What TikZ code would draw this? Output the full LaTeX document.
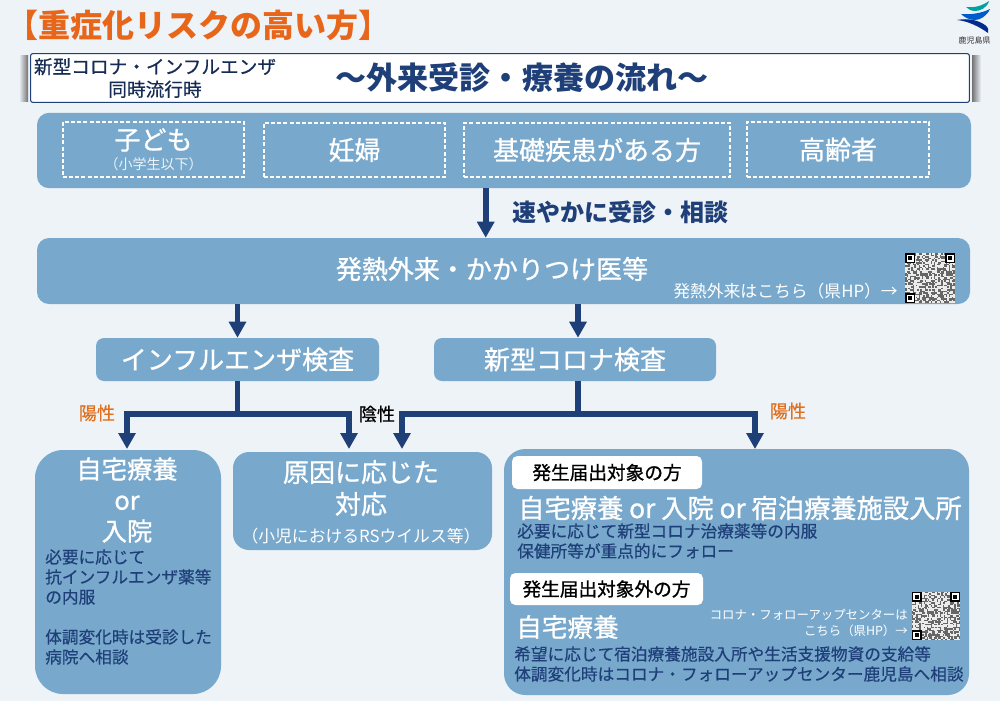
\documentclass[tikz,border=0pt]{standalone}
\usepackage{fontspec}
\usepackage{tikz}
\usetikzlibrary{arrows.meta,positioning}
\setmainfont{Noto Sans CJK JP}
\newfontfamily\medfont[FakeBold=0.9]{Noto Sans CJK JP}
\newfontfamily\notefont[FakeBold=0.5]{Noto Sans CJK JP}
\definecolor{pagebg}{HTML}{EEF3F8}
\definecolor{boxblue}{HTML}{78A9CD}
\definecolor{navy}{HTML}{1F3F78}
\definecolor{titleorange}{HTML}{E8661A}
\definecolor{labelorange}{HTML}{E0701E}
\tikzset{
	panel/.style={fill=boxblue,draw=none,rounded corners=#1,inner sep=0pt},
	panel/.default=12,
	dashbox/.style={draw=white,dashed,line width=0.8pt,dash pattern=on 3pt off 1.6pt,text=white,inner sep=0pt},
	tagbox/.style={fill=white,rounded corners=4pt,inner sep=0pt,font=\medfont\fontsize{14}{16}\selectfont},
	flow/.style={draw=navy,line width=4.2pt},
	flowtip/.style={flow,-{Triangle[width=12.5pt,length=12pt]}},
	whitetext/.style={text=white,inner sep=0pt,align=center},
	navytext/.style={text=navy,inner sep=0pt,align=left,font=\notefont\fontsize{12.5}{15}\selectfont},
}
% QR code drawn as a field of cells
\newcommand{\qrblock}[3]{%
	\begin{scope}[shift={(#1,#2)}]
		\fill[white!85!gray] (0,0) rectangle (#3,#3);
		\pgfmathsetseed{4711}
		\foreach \i in {0,...,32}{
			\foreach \j in {0,...,32}{
				\pgfmathparse{rnd}
				\ifdim\pgfmathresult pt<0.5pt
					\fill[black!60] ({\i*#3/33},{\j*#3/33}) rectangle ++({#3/33},{#3/33});
				\fi
			}
		}
		\foreach \a/\b in {0/0,0.8/0,0/0.8}{
			\fill[black] ({\a*#3},{\b*#3}) rectangle ++({0.2*#3},{0.2*#3});
			\fill[white] ({(\a+0.03)*#3},{(\b+0.03)*#3}) rectangle ++({0.14*#3},{0.14*#3});
			\fill[black] ({(\a+0.06)*#3},{(\b+0.06)*#3}) rectangle ++({0.08*#3},{0.08*#3});
		}
	\end{scope}
}

\begin{document}
\begin{tikzpicture}[x=0.75pt,y=-0.75pt]
	\fill[pagebg] (0,0) rectangle (1000,701);
	\useasboundingbox (0,0) rectangle (1000,701);
	% 見出し
	\node[text=titleorange,inner sep=0pt,font=\fontsize{24}{28}\selectfont\bfseries] (heading) at (199,25) {【重症化リスクの高い方】};
	% ロゴ
	\fill[teal!60!cyan!90!black] (966,7) .. controls (974,8) and (982,6) .. (989,1) .. controls (987,8) and (980,11) .. (975,11) .. controls (971,11) and (968,9) .. (966,7);
	\fill[blue!55!cyan!80!black] (961,14) .. controls (971,15) and (982,13) .. (990,9) .. controls (987,16) and (980,20) .. (975,20) .. controls (969,20) and (964,17) .. (961,14);
	\fill[blue!70!cyan!55!black] (957,20) .. controls (968,18) and (978,20) .. (985,25) .. controls (988,27) and (989,30) .. (988,33) .. controls (980,27) and (968,21) .. (957,20);
	\node[text=black!80,inner sep=0pt,font=\fontsize{6}{7}\selectfont] (logotext) at (974.5,40) {鹿児島県};
	% バナー
	\shade[left color=pagebg,right color=black!55] (19,55) rectangle (28,101);
	\shade[left color=black!55,right color=pagebg] (972,55) rectangle (981,101);
	\node[fill=white,draw=navy,line width=0.8pt,rounded corners=1.5pt,minimum width=704pt,minimum height=36.5pt,inner sep=0pt] (banner) at (500,78) {};
	\node[text=navy!70!black,inner sep=0pt,align=center,font=\notefont\fontsize{14}{17}\selectfont] (simul) at (155,78) {新型コロナ・インフルエンザ\\同時流行時};
	\node[text=navy,inner sep=0pt,font=\fontsize{23.3}{26}\selectfont\bfseries] (flowtitle) at (522,78) {～外来受診・療養の流れ～};
	% 対象者
	\node[panel=9pt,minimum width=700.5pt,minimum height=56.5pt] (target) at (504,150.5) {};
	\node[dashbox,minimum width=135.75pt,minimum height=41.25pt] (childbox) at (153.5,149.5) {};
	\node[whitetext,font=\medfont\fontsize{19.5}{22}\selectfont] (child) at (153.5,140) {子ども};
	\node[whitetext,font=\fontsize{10.5}{12}\selectfont,text=white!85!boxblue] (childsub) at (153.5,164) {（小学生以下）};
	\node[dashbox,minimum width=135.75pt,minimum height=40.5pt,font=\medfont\fontsize{19.5}{22}\selectfont] (preg) at (354.5,150) {妊婦};
	\node[dashbox,minimum width=199.5pt,minimum height=40.5pt,font=\medfont\fontsize{19.5}{22}\selectfont] (chronic) at (597,150) {基礎疾患がある方};
	\node[dashbox,minimum width=136.5pt,minimum height=41.25pt,font=\medfont\fontsize{19.5}{22}\selectfont] (elder) at (838,149.5) {高齢者};
	% 受診先
	\node[panel=9pt,minimum width=699.75pt,minimum height=49.5pt] (fever) at (503.5,271) {};
	\node[whitetext,font=\medfont\fontsize{19.5}{23}\selectfont] (fevertext) at (492,269) {発熱外来・かかりつけ医等};
	\node[whitetext,font=\fontsize{12.6}{14}\selectfont] (feverlink) at (785.5,291) {発熱外来はこちら（県HP）→};
	\qrblock{905}{253}{50}
	\node[navytext,font=\fontsize{18}{21}\selectfont\bfseries] (hurry) at (620,212) {速やかに受診・相談};
	\draw[flowtip] (target.south -| hurry.west) ++(-26,0) coordinate (hurrytop) -- (hurrytop |- fever.north);
	% 検査
	\node[panel=6pt,minimum width=212.25pt,minimum height=32.25pt,whitetext,font=\medfont\fontsize{19.5}{23}\selectfont] (flu) at (237.5,359.5) {インフルエンザ検査};
	\node[panel=6pt,minimum width=211.5pt,minimum height=32.25pt,whitetext,font=\medfont\fontsize{19.5}{23}\selectfont] (corona) at (575,359.5) {新型コロナ検査};
	% 結果
	\node[panel=21pt,minimum width=139.5pt,minimum height=183pt] (home) at (128,572) {};
	\node[whitetext,font=\medfont\fontsize{19}{23.25}\selectfont] (hometext) at (127,500) {自宅療養\\or\\入院};
	\node[navytext,anchor=north west] (homenote) at (45,549) {必要に応じて\\抗インフルエンザ薬等\\の内服\\[15pt]体調変化時は受診した\\病院へ相談};
	\node[panel=12pt,minimum width=194.25pt,minimum height=73.5pt] (cause) at (362.5,501) {};
	\node[whitetext,font=\medfont\fontsize{19.5}{24}\selectfont] (causetext) at (361,488) {原因に応じた\\対応};
	\node[whitetext,font=\fontsize{12.6}{14}\selectfont] (causenote) at (361,536) {（小児におけるRSウイルス等）};
	\node[panel=16pt,minimum width=348.75pt,minimum height=184.5pt] (notify) at (736.5,572) {};
	\node[tagbox,minimum width=142.5pt,minimum height=24.75pt] (tagin) at (607,472.5) {発生届出対象の方};
	\node[whitetext,font=\medfont\fontsize{19.7}{23}\selectfont,anchor=west] (inchoice) at (518,508) {自宅療養 or 入院 or 宿泊療養施設入所};
	\node[navytext,anchor=north west] (innote) at (517,523) {必要に応じて新型コロナ治療薬等の内服\\保健所等が重点的にフォロー};
	\node[tagbox,minimum width=144.75pt,minimum height=24pt] (tagout) at (606.5,589) {発生届出対象外の方};
	\node[whitetext,font=\medfont\fontsize{19.2}{23}\selectfont,anchor=west] (outchoice) at (516,627) {自宅療養};
	\node[whitetext,font=\fontsize{9.3}{12}\selectfont,align=right,anchor=east] (centerlink) at (908,623) {コロナ・フォローアップセンターは\\こちら（県HP）→};
	\qrblock{912}{592}{48}
	\node[navytext,anchor=north west] (outnote) at (514,646) {希望に応じて宿泊療養施設入所や生活支援物資の支給等\\体調変化時はコロナ・フォローアップセンター鹿児島へ相談};
	% 矢印
	\draw[flowtip] (flu.north |- fever.south) -- (flu.north);
	\coordinate (coronatap) at (578,381);
	\draw[flowtip] (coronatap |- fever.south) -- (coronatap |- corona.north);
	\coordinate (flusplit) at (237.5,414);
	\coordinate (coronasplit) at (578,414);
	\draw[flow] (flu.south) -- (flusplit);
	\draw[flow] (coronatap) -- (coronasplit);
	\draw[flowtip] (flusplit) -| (127,449) coordinate (homein);
	\draw[flowtip] (flusplit) -| (349,449) coordinate (causeflu);
	\draw[flowtip] (coronasplit) -| (402,449) coordinate (causecorona);
	\draw[flowtip] (coronasplit) -| (755,449) coordinate (notifyin);
	\node[text=labelorange,inner sep=0pt,font=\notefont\fontsize{13.5}{16}\selectfont] (posflu) at (97,413) {陽性};
	\node[text=black,inner sep=0pt,font=\notefont\fontsize{13.5}{16}\selectfont] (neg) at (377,414) {陰性};
	\node[text=labelorange,inner sep=0pt,font=\notefont\fontsize{13.5}{16}\selectfont] (poscorona) at (788,411) {陽性};
\end{tikzpicture}
\end{document}
